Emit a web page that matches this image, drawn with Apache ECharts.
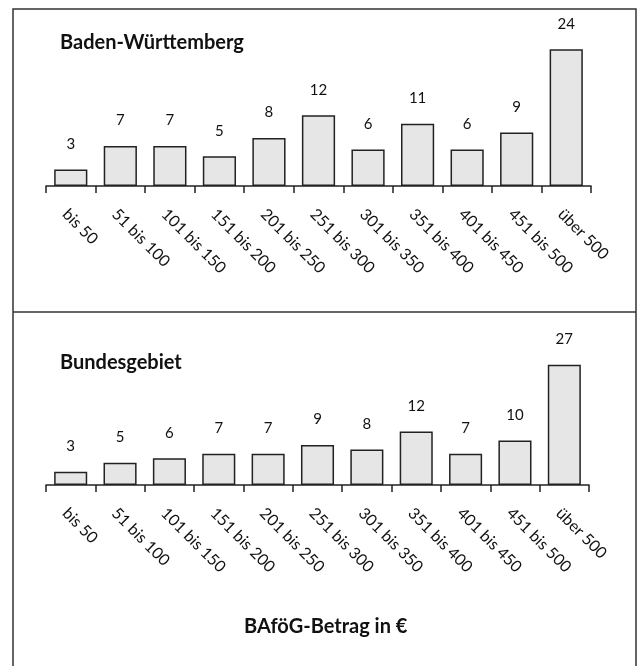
<!DOCTYPE html>
<html><head><meta charset="utf-8">
<script src="https://cdn.jsdelivr.net/npm/echarts@6/dist/echarts.min.js"></script>
<style>html,body{margin:0;padding:0;background:#fff}#c{width:640px;height:666px}</style>
</head><body><div id="c"></div>
<script>
const categories = ['bis 50','51 bis 100','101 bis 150','151 bis 200','201 bis 250','251 bis 300','301 bis 350','351 bis 400','401 bis 450','451 bis 500','über 500'];
const bwValues = [2.9, 7.0, 7.0, 5.2, 8.4, 12.4, 6.4, 10.9, 6.4, 9.4, 24.0];
const bundValues = [3, 5, 6, 7, 7, 9, 8, 12, 7, 10, 27];
const panelTitles = ['Baden-Württemberg', 'Bundesgebiet'];
const axisTitle = 'BAföG-Betrag in €';

const FONT = 'Lato';
const chart = echarts.init(document.getElementById('c'));
function xAxis(gi){
  return {
    type:'category', gridIndex:gi, data:categories,
    axisLine:{lineStyle:{color:'#222', width:1.5}},
    axisTick:{show:true, length:7, alignWithLabel:false, lineStyle:{color:'#222', width:1.5}},
    axisLabel:{rotate:-45, margin:20, verticalAlign:'top', color:'#111', fontFamily:FONT, fontSize:16, interval:0}
  };
}
function yAxis(gi){
  return {type:'value', gridIndex:gi, min:0, max:30, show:false};
}
function series(gi, vals){
  return {
    type:'bar', xAxisIndex:gi, yAxisIndex:gi, data:vals, barCategoryGap:'33%',
    itemStyle:{color:'#e6e6e6', borderColor:'#222', borderWidth:1.5},
    label:{show:true, position:'top', distance:18, color:'#111', fontFamily:FONT, fontSize:15,
      formatter:p=>Math.round(p.value)},
    silent:true
  };
}
const tStyle = {fontFamily:FONT, fontSize:20, fontWeight:'bold', color:'#111'};
chart.setOption({
  animation:false,
  title:[
    {text:panelTitles[0], left:55, top:28, textStyle:tStyle},
    {text:panelTitles[1], left:55, top:348, textStyle:tStyle},
    {text:axisTitle, left:239, top:612, textStyle:tStyle}
  ],
  grid:[
    {left:46, right:49, top:15, height:171},
    {left:46, right:51, top:351.5, height:133.5}
  ],
  xAxis:[xAxis(0), xAxis(1)],
  yAxis:[yAxis(0), yAxis(1)],
  series:[series(0,bwValues), series(1,bundValues)],
  graphic:[
    {type:'rect', shape:{x:13, y:9, width:623, height:680}, style:{fill:'none', stroke:'#333', lineWidth:1.5}, silent:true},
    {type:'line', shape:{x1:13, y1:312, x2:636, y2:312}, style:{stroke:'#333', lineWidth:1.5}, silent:true}
  ]
});
</script></body></html>
